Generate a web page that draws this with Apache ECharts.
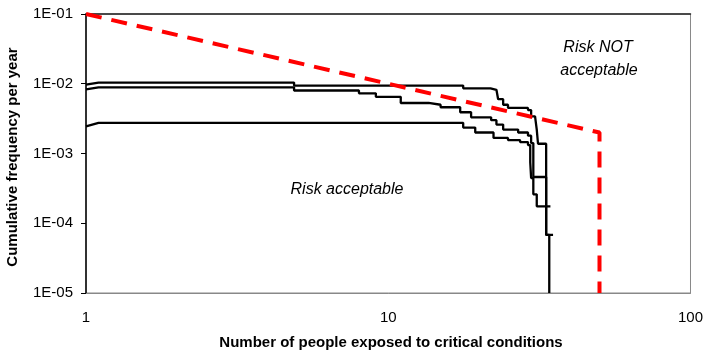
<!DOCTYPE html>
<html>
<head>
<meta charset="utf-8">
<script src="https://cdn.jsdelivr.net/npm/echarts@6/dist/echarts.min.js"></script>
<style>
html,body{margin:0;padding:0;background:#fff;}
#chart{width:706px;height:353px;}
</style>
</head>
<body>
<div id="chart"></div>
<script>
// Tick labels
const xTickLabels = ['1', '10', '100'];
const yTickLabels = ['1E-05', '1E-04', '1E-03', '1E-02', '1E-01'];

// Acceptability limit (F-N criterion line)
const limitLine = [[1, 0.1], [50, 0.002], [50, 1e-5]];

// F-N curves [people, cumulative frequency]
const curveA = [
  [1, 0.0097], [1.1, 0.0104], [4.88, 0.0104], [4.88, 0.0094], [17.7, 0.0094], [17.7, 0.0086],
  [21.8, 0.0086], [21.8, 0.0082], [22.8, 0.0082], [22.8, 0.0079], [23.1, 0.0079], [23.1, 0.0060],
  [24.0, 0.0060], [24.0, 0.0050], [24.9, 0.0050], [24.9, 0.0045], [29.0, 0.0045], [29.0, 0.0042],
  [29.7, 0.0042], [29.7, 0.0034], [30.6, 0.0034], [30.6, 0.0032], [31.0, 0.0032], [31.0, 0.0022],
  [31.3, 0.0022], [31.3, 0.00138], [33.3, 0.00138], [33.3, 6.8e-5], [34.1, 6.8e-5], [34.1, 1e-5]
];
const curveB = [
  [1, 0.0083], [1.1, 0.0089], [4.88, 0.0089], [4.88, 0.0080], [8.0, 0.0080], [8.0, 0.0073],
  [9.1, 0.0073], [9.1, 0.0065], [11.0, 0.0065], [11.0, 0.0053], [13.6, 0.0053], [13.6, 0.0050],
  [14.9, 0.0050], [14.9, 0.0046], [17.3, 0.0046], [17.3, 0.0039], [18.8, 0.0039], [18.8, 0.0033],
  [21.9, 0.0033], [21.9, 0.0030], [22.8, 0.0030], [22.8, 0.0026], [24.0, 0.0026], [24.0, 0.0022],
  [26.9, 0.0022], [26.9, 0.0020], [29.0, 0.0020], [29.0, 0.0018], [29.7, 0.0018], [29.7, 0.00141],
  [30.2, 0.00141], [30.2, 4.6e-4], [33.3, 4.6e-4], [33.3, 6.8e-5], [35.1, 6.8e-5]
];
const curveC = [
  [1, 0.00245], [1.1, 0.00275], [17.7, 0.00275], [17.7, 0.00235], [19.4, 0.00235], [19.4, 0.0020],
  [22.3, 0.0020], [22.3, 0.00167], [24.9, 0.00167], [24.9, 0.00156], [27.3, 0.00156], [27.3, 0.00146],
  [29.0, 0.00146], [29.0, 0.00132], [29.5, 0.00132], [29.5, 7.5e-4], [29.7, 7.5e-4], [29.7, 4.45e-4],
  [30.2, 4.45e-4], [30.2, 2.6e-4], [31.0, 2.6e-4], [31.0, 1.75e-4], [34.4, 1.75e-4]
];

const FONT = 'Arial, "Liberation Sans", sans-serif';
const chart = echarts.init(document.getElementById('chart'), null, {renderer: 'canvas'});

function blackCurve(d) {
  return {
    type: 'line', data: d, symbol: 'none', silent: true, animation: false,
    lineStyle: {color: '#000', width: 2.3}
  };
}

chart.setOption({
  animation: false,
  backgroundColor: '#fff',
  grid: {left: 86, right: 13, top: 14, bottom: 60, show: true, borderColor: '#888', borderWidth: 1},
  xAxis: [{
    type: 'log', logBase: 10, min: 1, max: 100,
    axisLine: {show: true, lineStyle: {color: '#888', width: 1}},
    axisTick: {show: false}, minorTick: {show: false},
    splitLine: {show: false},
    axisLabel: {
      color: '#000', fontSize: 15, fontFamily: FONT, margin: 17,
      formatter: v => xTickLabels[Math.round(Math.log10(v))]
    }
  }, {
    type: 'log', logBase: 10, min: 1, max: 100, position: 'top',
    axisLine: {show: true, lineStyle: {color: '#222', width: 1.5}},
    axisTick: {show: false}, axisLabel: {show: false}, splitLine: {show: false}
  }],
  yAxis: {
    type: 'log', logBase: 10, min: 1e-5, max: 0.1,
    axisLine: {show: true, lineStyle: {color: '#000', width: 1.5}},
    axisTick: {show: true, length: 5, lineStyle: {color: '#000', width: 1}},
    minorTick: {show: false},
    splitLine: {show: false},
    axisLabel: {
      color: '#000', fontSize: 15, fontFamily: FONT, margin: 13,
      formatter: v => yTickLabels[Math.round(Math.log10(v)) + 5]
    }
  },
  series: [
    blackCurve(curveC),
    blackCurve(curveB),
    blackCurve(curveA),
    {
      type: 'line', data: limitLine, symbol: 'none', silent: true, clip: false,
      lineStyle: {color: '#FF0000', width: 4, type: [16, 10]}
    }
  ],
  graphic: [
    {type: 'text', x: 598, y: 48, style: {text: 'Risk NOT', font: 'italic 16px ' + FONT, fill: '#000', textAlign: 'center', textVerticalAlign: 'middle'}},
    {type: 'text', x: 599, y: 71, style: {text: 'acceptable', font: 'italic 16px ' + FONT, fill: '#000', textAlign: 'center', textVerticalAlign: 'middle'}},
    {type: 'text', x: 347, y: 190, style: {text: 'Risk acceptable', font: 'italic 16px ' + FONT, fill: '#000', textAlign: 'center', textVerticalAlign: 'middle'}},
    {type: 'text', x: 391, y: 343, style: {text: 'Number of people exposed to critical conditions', font: 'bold 15px ' + FONT, fill: '#000', textAlign: 'center', textVerticalAlign: 'middle'}},
    {type: 'text', x: 13, y: 157, rotation: Math.PI / 2, style: {text: 'Cumulative frequency per year', font: 'bold 15px ' + FONT, fill: '#000', textAlign: 'center', textVerticalAlign: 'middle'}}
  ]
});
</script>
</body>
</html>
